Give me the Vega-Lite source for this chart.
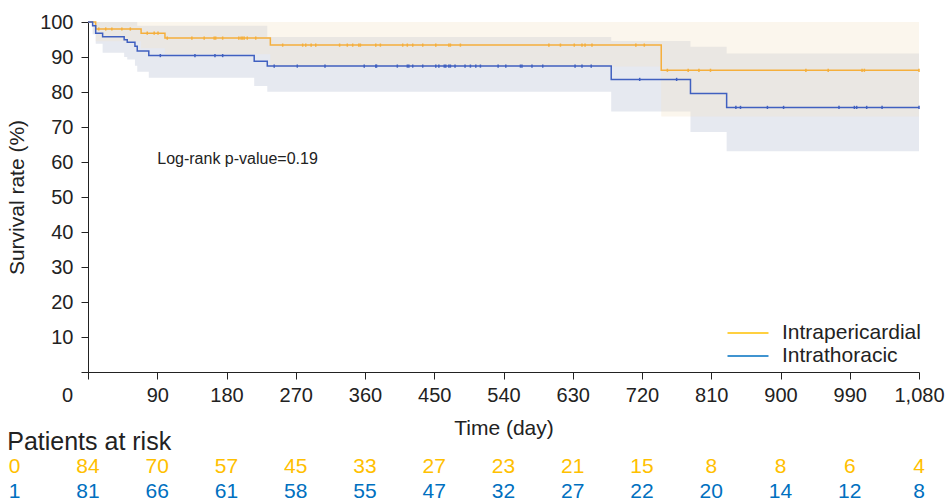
{
  "$schema": "https://vega.github.io/schema/vega-lite/v6.json",
  "background": "white",
  "padding": {"left": 6, "top": 12, "right": 0, "bottom": 0},
  "config": {"font": "Liberation Sans", "view": {"stroke": null}},
  "spacing": 57,
  "bounds": "flush",
  "resolve": {"scale": {"color": "independent"}, "legend": {"color": "independent"}},
  "datasets": {
    "km": [
      {"group": "Intrapericardial", "day": 0, "surv": 100},
      {"group": "Intrapericardial", "day": 10, "surv": 98.0},
      {"group": "Intrapericardial", "day": 69, "surv": 96.8},
      {"group": "Intrapericardial", "day": 100, "surv": 95.4},
      {"group": "Intrapericardial", "day": 237, "surv": 93.4},
      {"group": "Intrapericardial", "day": 745, "surv": 86.2},
      {"group": "Intrapericardial", "day": 1080, "surv": 86.2},
      {"group": "Intrathoracic", "day": 0, "surv": 100},
      {"group": "Intrathoracic", "day": 6, "surv": 98.9},
      {"group": "Intrathoracic", "day": 10, "surv": 96.8},
      {"group": "Intrathoracic", "day": 19, "surv": 95.8},
      {"group": "Intrathoracic", "day": 47, "surv": 94.9},
      {"group": "Intrathoracic", "day": 51, "surv": 94.2},
      {"group": "Intrathoracic", "day": 61, "surv": 93.1},
      {"group": "Intrathoracic", "day": 64, "surv": 91.7},
      {"group": "Intrathoracic", "day": 79, "surv": 90.4},
      {"group": "Intrathoracic", "day": 216, "surv": 88.8},
      {"group": "Intrathoracic", "day": 233, "surv": 87.4},
      {"group": "Intrathoracic", "day": 680, "surv": 83.6},
      {"group": "Intrathoracic", "day": 783, "surv": 79.6},
      {"group": "Intrathoracic", "day": 830, "surv": 75.6},
      {"group": "Intrathoracic", "day": 1080, "surv": 75.6}
    ],
    "band": [
      {"group": "Intrathoracic", "day": 0, "lower": 100, "upper": 100},
      {"group": "Intrathoracic", "day": 6, "lower": 96.5, "upper": 100},
      {"group": "Intrathoracic", "day": 10, "lower": 93.8, "upper": 100},
      {"group": "Intrathoracic", "day": 19, "lower": 91.2, "upper": 100},
      {"group": "Intrathoracic", "day": 47, "lower": 90.0, "upper": 100},
      {"group": "Intrathoracic", "day": 51, "lower": 89.3, "upper": 100},
      {"group": "Intrathoracic", "day": 61, "lower": 87.5, "upper": 100},
      {"group": "Intrathoracic", "day": 64, "lower": 85.8, "upper": 98.9},
      {"group": "Intrathoracic", "day": 79, "lower": 84.1, "upper": 98.9},
      {"group": "Intrathoracic", "day": 216, "lower": 81.7, "upper": 98.9},
      {"group": "Intrathoracic", "day": 233, "lower": 80.1, "upper": 95.7},
      {"group": "Intrathoracic", "day": 680, "lower": 74.4, "upper": 94.6},
      {"group": "Intrathoracic", "day": 783, "lower": 68.6, "upper": 92.9},
      {"group": "Intrathoracic", "day": 830, "lower": 63.1, "upper": 91.0},
      {"group": "Intrathoracic", "day": 1080, "lower": 63.1, "upper": 91.0},
      {"group": "Intrapericardial", "day": 0, "lower": 100, "upper": 100},
      {"group": "Intrapericardial", "day": 10, "lower": 94.5, "upper": 100},
      {"group": "Intrapericardial", "day": 69, "lower": 92.5, "upper": 100},
      {"group": "Intrapericardial", "day": 100, "lower": 90.8, "upper": 100},
      {"group": "Intrapericardial", "day": 237, "lower": 87.3, "upper": 100},
      {"group": "Intrapericardial", "day": 745, "lower": 73.0, "upper": 100},
      {"group": "Intrapericardial", "day": 1080, "lower": 73.0, "upper": 100}
    ],
    "cens": [
      {"group": "Intrapericardial", "day": 14, "surv": 98.0},
      {"group": "Intrapericardial", "day": 23, "surv": 98.0},
      {"group": "Intrapericardial", "day": 31, "surv": 98.0},
      {"group": "Intrapericardial", "day": 44, "surv": 98.0},
      {"group": "Intrapericardial", "day": 55, "surv": 98.0},
      {"group": "Intrapericardial", "day": 77, "surv": 96.8},
      {"group": "Intrapericardial", "day": 86, "surv": 96.8},
      {"group": "Intrapericardial", "day": 91, "surv": 96.8},
      {"group": "Intrapericardial", "day": 103, "surv": 95.4},
      {"group": "Intrapericardial", "day": 135, "surv": 95.4},
      {"group": "Intrapericardial", "day": 151, "surv": 95.4},
      {"group": "Intrapericardial", "day": 164, "surv": 95.4},
      {"group": "Intrapericardial", "day": 166, "surv": 95.4},
      {"group": "Intrapericardial", "day": 175, "surv": 95.4},
      {"group": "Intrapericardial", "day": 196, "surv": 95.4},
      {"group": "Intrapericardial", "day": 199, "surv": 95.4},
      {"group": "Intrapericardial", "day": 201, "surv": 95.4},
      {"group": "Intrapericardial", "day": 203, "surv": 95.4},
      {"group": "Intrapericardial", "day": 207, "surv": 95.4},
      {"group": "Intrapericardial", "day": 218, "surv": 95.4},
      {"group": "Intrapericardial", "day": 253, "surv": 93.4},
      {"group": "Intrapericardial", "day": 279, "surv": 93.4},
      {"group": "Intrapericardial", "day": 283, "surv": 93.4},
      {"group": "Intrapericardial", "day": 290, "surv": 93.4},
      {"group": "Intrapericardial", "day": 296, "surv": 93.4},
      {"group": "Intrapericardial", "day": 327, "surv": 93.4},
      {"group": "Intrapericardial", "day": 337, "surv": 93.4},
      {"group": "Intrapericardial", "day": 344, "surv": 93.4},
      {"group": "Intrapericardial", "day": 352, "surv": 93.4},
      {"group": "Intrapericardial", "day": 354, "surv": 93.4},
      {"group": "Intrapericardial", "day": 374, "surv": 93.4},
      {"group": "Intrapericardial", "day": 380, "surv": 93.4},
      {"group": "Intrapericardial", "day": 409, "surv": 93.4},
      {"group": "Intrapericardial", "day": 415, "surv": 93.4},
      {"group": "Intrapericardial", "day": 422, "surv": 93.4},
      {"group": "Intrapericardial", "day": 435, "surv": 93.4},
      {"group": "Intrapericardial", "day": 452, "surv": 93.4},
      {"group": "Intrapericardial", "day": 469, "surv": 93.4},
      {"group": "Intrapericardial", "day": 471, "surv": 93.4},
      {"group": "Intrapericardial", "day": 484, "surv": 93.4},
      {"group": "Intrapericardial", "day": 599, "surv": 93.4},
      {"group": "Intrapericardial", "day": 614, "surv": 93.4},
      {"group": "Intrapericardial", "day": 632, "surv": 93.4},
      {"group": "Intrapericardial", "day": 642, "surv": 93.4},
      {"group": "Intrapericardial", "day": 646, "surv": 93.4},
      {"group": "Intrapericardial", "day": 655, "surv": 93.4},
      {"group": "Intrapericardial", "day": 712, "surv": 93.4},
      {"group": "Intrapericardial", "day": 723, "surv": 93.4},
      {"group": "Intrapericardial", "day": 753, "surv": 86.2},
      {"group": "Intrapericardial", "day": 780, "surv": 86.2},
      {"group": "Intrapericardial", "day": 794, "surv": 86.2},
      {"group": "Intrapericardial", "day": 809, "surv": 86.2},
      {"group": "Intrapericardial", "day": 933, "surv": 86.2},
      {"group": "Intrapericardial", "day": 962, "surv": 86.2},
      {"group": "Intrapericardial", "day": 1006, "surv": 86.2},
      {"group": "Intrapericardial", "day": 1009, "surv": 86.2},
      {"group": "Intrapericardial", "day": 1080, "surv": 86.2},
      {"group": "Intrathoracic", "day": 94, "surv": 90.4},
      {"group": "Intrathoracic", "day": 139, "surv": 90.4},
      {"group": "Intrathoracic", "day": 165, "surv": 90.4},
      {"group": "Intrathoracic", "day": 175, "surv": 90.4},
      {"group": "Intrathoracic", "day": 242, "surv": 87.4},
      {"group": "Intrathoracic", "day": 272, "surv": 87.4},
      {"group": "Intrathoracic", "day": 308, "surv": 87.4},
      {"group": "Intrathoracic", "day": 359, "surv": 87.4},
      {"group": "Intrathoracic", "day": 374, "surv": 87.4},
      {"group": "Intrathoracic", "day": 375, "surv": 87.4},
      {"group": "Intrathoracic", "day": 402, "surv": 87.4},
      {"group": "Intrathoracic", "day": 415, "surv": 87.4},
      {"group": "Intrathoracic", "day": 417, "surv": 87.4},
      {"group": "Intrathoracic", "day": 422, "surv": 87.4},
      {"group": "Intrathoracic", "day": 435, "surv": 87.4},
      {"group": "Intrathoracic", "day": 452, "surv": 87.4},
      {"group": "Intrathoracic", "day": 456, "surv": 87.4},
      {"group": "Intrathoracic", "day": 463, "surv": 87.4},
      {"group": "Intrathoracic", "day": 465, "surv": 87.4},
      {"group": "Intrathoracic", "day": 469, "surv": 87.4},
      {"group": "Intrathoracic", "day": 471, "surv": 87.4},
      {"group": "Intrathoracic", "day": 477, "surv": 87.4},
      {"group": "Intrathoracic", "day": 490, "surv": 87.4},
      {"group": "Intrathoracic", "day": 497, "surv": 87.4},
      {"group": "Intrathoracic", "day": 504, "surv": 87.4},
      {"group": "Intrathoracic", "day": 510, "surv": 87.4},
      {"group": "Intrathoracic", "day": 533, "surv": 87.4},
      {"group": "Intrathoracic", "day": 543, "surv": 87.4},
      {"group": "Intrathoracic", "day": 562, "surv": 87.4},
      {"group": "Intrathoracic", "day": 564, "surv": 87.4},
      {"group": "Intrathoracic", "day": 577, "surv": 87.4},
      {"group": "Intrathoracic", "day": 591, "surv": 87.4},
      {"group": "Intrathoracic", "day": 633, "surv": 87.4},
      {"group": "Intrathoracic", "day": 642, "surv": 87.4},
      {"group": "Intrathoracic", "day": 654, "surv": 87.4},
      {"group": "Intrathoracic", "day": 717, "surv": 83.6},
      {"group": "Intrathoracic", "day": 765, "surv": 83.6},
      {"group": "Intrathoracic", "day": 842, "surv": 75.6},
      {"group": "Intrathoracic", "day": 848, "surv": 75.6},
      {"group": "Intrathoracic", "day": 883, "surv": 75.6},
      {"group": "Intrathoracic", "day": 904, "surv": 75.6},
      {"group": "Intrathoracic", "day": 976, "surv": 75.6},
      {"group": "Intrathoracic", "day": 996, "surv": 75.6},
      {"group": "Intrathoracic", "day": 999, "surv": 75.6},
      {"group": "Intrathoracic", "day": 1012, "surv": 75.6},
      {"group": "Intrathoracic", "day": 1032, "surv": 75.6},
      {"group": "Intrathoracic", "day": 1080, "surv": 75.6}
    ],
    "note": [{"day": 90, "surv": 61, "label": "Log-rank p-value=0.19"}],
    "groups": [{"group": "Intrapericardial", "day": 0}, {"group": "Intrathoracic", "day": 0}],
    "header": [{"row": "header", "day": -105, "label": "Patients at risk"}],
    "grouplabels": [
      {"row": "Intrapericardial", "day": -103, "label": "0"},
      {"row": "Intrathoracic", "day": -103, "label": "1"}
    ],
    "risk": [
      {"row": "Intrapericardial", "day": 0, "n": 84},
      {"row": "Intrapericardial", "day": 90, "n": 70},
      {"row": "Intrapericardial", "day": 180, "n": 57},
      {"row": "Intrapericardial", "day": 270, "n": 45},
      {"row": "Intrapericardial", "day": 360, "n": 33},
      {"row": "Intrapericardial", "day": 450, "n": 27},
      {"row": "Intrapericardial", "day": 540, "n": 23},
      {"row": "Intrapericardial", "day": 630, "n": 21},
      {"row": "Intrapericardial", "day": 720, "n": 15},
      {"row": "Intrapericardial", "day": 810, "n": 8},
      {"row": "Intrapericardial", "day": 900, "n": 8},
      {"row": "Intrapericardial", "day": 990, "n": 6},
      {"row": "Intrapericardial", "day": 1080, "n": 4},
      {"row": "Intrathoracic", "day": 0, "n": 81},
      {"row": "Intrathoracic", "day": 90, "n": 66},
      {"row": "Intrathoracic", "day": 180, "n": 61},
      {"row": "Intrathoracic", "day": 270, "n": 58},
      {"row": "Intrathoracic", "day": 360, "n": 55},
      {"row": "Intrathoracic", "day": 450, "n": 47},
      {"row": "Intrathoracic", "day": 540, "n": 32},
      {"row": "Intrathoracic", "day": 630, "n": 27},
      {"row": "Intrathoracic", "day": 720, "n": 22},
      {"row": "Intrathoracic", "day": 810, "n": 20},
      {"row": "Intrathoracic", "day": 900, "n": 14},
      {"row": "Intrathoracic", "day": 990, "n": 12},
      {"row": "Intrathoracic", "day": 1080, "n": 8}
    ]
  },
  "vconcat": [
    {
      "width": 831,
      "height": 350,
      "encoding": {
        "x": {
          "field": "day", "type": "quantitative", "title": "Time (day)",
          "scale": {"domain": [0, 1080], "nice": false, "zero": false},
          "axis": {
            "values": [0, 90, 180, 270, 360, 450, 540, 630, 720, 810, 900, 990, 1080],
            "format": ",d", "grid": false, "tickSize": 7, "labelFontSize": 20, "titleFontSize": 21,
            "titleFontWeight": "normal", "labelPadding": 6, "titlePadding": 12, "labelFlush": false,
            "labelOverlap": false,
            "labelOffset": {"condition": {"test": "datum.value === 0", "value": -21}, "value": 0},
            "domainColor": "#222", "tickColor": "#222", "labelColor": "#222", "titleColor": "#222"
          }
        },
        "y": {
          "type": "quantitative", "title": "Survival rate (%)",
          "scale": {"domain": [0, 100], "nice": false},
          "axis": {
            "values": [0, 10, 20, 30, 40, 50, 60, 70, 80, 90, 100],
            "labelExpr": "datum.value === 0 ? '' : datum.label",
            "labelOverlap": false,
            "grid": false, "tickSize": 7, "labelFontSize": 20, "titleFontSize": 21,
            "titleFontWeight": "normal", "labelPadding": 8, "titlePadding": 12,
            "domainColor": "#222", "tickColor": "#222", "labelColor": "#222", "titleColor": "#222"
          }
        }
      },
      "layer": [
        {
          "data": {"name": "band"},
          "transform": [{"filter": "datum.group === 'Intrathoracic'"}],
          "mark": {"type": "area", "interpolate": "step-after", "color": "#E6E9F0"},
          "encoding": {
            "y": {"field": "lower"},
            "y2": {"field": "upper"}
          }
        },
        {
          "data": {"name": "band"},
          "transform": [{"filter": "datum.group === 'Intrapericardial'"}],
          "mark": {"type": "area", "interpolate": "step-after", "color": "#F4E4C8", "opacity": 0.32},
          "encoding": {
            "y": {"field": "lower"},
            "y2": {"field": "upper"}
          }
        },
        {
          "data": {"name": "km"},
          "mark": {"type": "line", "interpolate": "step-after", "strokeWidth": 1.5},
          "encoding": {
            "y": {"field": "surv"},
            "stroke": {
              "field": "group", "type": "nominal",
              "scale": {"domain": ["Intrapericardial", "Intrathoracic"], "range": ["#F5AF3C", "#4060C0"]},
              "legend": null
            }
          }
        },
        {
          "data": {"name": "cens"},
          "mark": {"type": "point", "shape": "M0,-1L0,1", "filled": false, "size": 10, "strokeWidth": 1.5, "opacity": 1},
          "encoding": {
            "y": {"field": "surv"},
            "stroke": {"field": "group", "type": "nominal", "legend": null}
          }
        },
        {
          "data": {"name": "note"},
          "mark": {"type": "text", "align": "left", "baseline": "middle", "fontSize": 16, "color": "#222"},
          "encoding": {
            "y": {"field": "surv"},
            "text": {"field": "label"}
          }
        },
        {
          "data": {"name": "groups"},
          "mark": {"type": "rule", "opacity": 0},
          "encoding": {
            "y": {"datum": 0},
            "color": {
              "field": "group", "type": "nominal",
              "scale": {"domain": ["Intrapericardial", "Intrathoracic"], "range": ["#FFC000", "#0070C0"]},
              "legend": {
                "title": null, "orient": "none", "legendX": 649, "legendY": 300, "padding": 0,
                "symbolType": "M-2,0H2", "symbolSize": 420, "symbolStrokeWidth": 1.5, "symbolOpacity": 1,
                "symbolFillColor": "transparent",
                "labelFontSize": 21, "labelColor": "#222", "labelOffset": 23, "rowPadding": 2
              }
            }
          }
        }
      ]
    },
    {
      "width": 831,
      "height": 76,
      "encoding": {
        "x": {"field": "day", "type": "quantitative", "scale": {"domain": [0, 1080], "nice": false, "zero": false}, "axis": null},
        "y": {
          "field": "row", "type": "ordinal",
          "scale": {"type": "point", "domain": ["header", "Intrapericardial", "Intrathoracic"], "padding": 0.5},
          "axis": null
        }
      },
      "layer": [
        {
          "data": {"name": "header"},
          "mark": {"type": "text", "align": "left", "baseline": "middle", "fontSize": 25, "color": "#222"},
          "encoding": {"text": {"field": "label"}}
        },
        {
          "data": {"name": "grouplabels"},
          "mark": {"type": "text", "align": "left", "baseline": "middle", "fontSize": 21},
          "encoding": {
            "text": {"field": "label"},
            "color": {
              "field": "row", "type": "nominal",
              "scale": {"domain": ["Intrapericardial", "Intrathoracic"], "range": ["#FFC000", "#0070C0"]},
              "legend": null
            }
          }
        },
        {
          "data": {"name": "risk"},
          "mark": {"type": "text", "align": "center", "baseline": "middle", "fontSize": 21},
          "encoding": {
            "text": {"field": "n", "type": "quantitative"},
            "color": {"field": "row", "type": "nominal", "legend": null}
          }
        }
      ]
    }
  ]
}
